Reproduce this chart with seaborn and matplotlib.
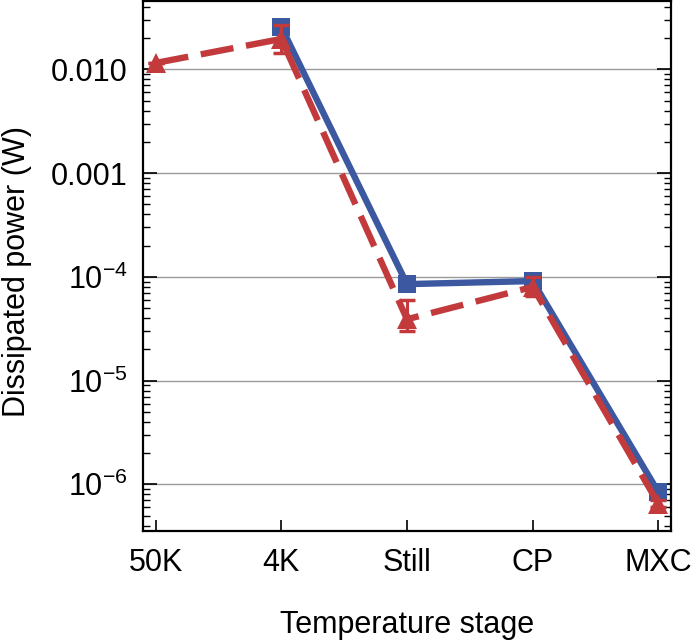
import numpy as np
import pandas as pd
import matplotlib
matplotlib.use("Agg")
import matplotlib.pyplot as plt
import matplotlib.ticker as mticker
import seaborn as sns

# Data
stages = ["50K", "4K", "Still", "CP", "MXC"]

blue_stages = ["4K", "Still", "CP", "MXC"]
blue_power = [0.0256, 8.5e-5, 9.1e-5, 8.4e-7]

red_stages = ["50K", "4K", "Still", "CP", "MXC"]
red_power = [0.0115, 0.0196, 3.9e-5, 8.0e-5, 6.5e-7]
red_err_low = [0.0115, 0.0145, 3.0e-5, 6.5e-5, 6.0e-7]
red_err_high = [0.0115, 0.027, 5.97e-5, 1.0e-4, 7.0e-7]

ytick_vals = [1e-2, 1e-3, 1e-4, 1e-5, 1e-6]
ytick_labels = ["0.010", "0.001", r"$10^{-4}$", r"$10^{-5}$", r"$10^{-6}$"]

blue = "#3B58A0"
red = "#C23A3C"

sns.set_style("white")
plt.rcParams["font.family"] = ["Liberation Sans", "DejaVu Sans"]
plt.rcParams["mathtext.fontset"] = "custom"
plt.rcParams["mathtext.rm"] = "Liberation Sans"
plt.rcParams["mathtext.it"] = "Liberation Sans:italic"
plt.rcParams["mathtext.bf"] = "Liberation Sans:bold"
plt.rcParams["text.color"] = "black"
plt.rcParams["axes.labelcolor"] = "black"
plt.rcParams["xtick.color"] = "black"
plt.rcParams["ytick.color"] = "black"

pos = {s: i for i, s in enumerate(stages)}
blue_df = pd.DataFrame({"x": [pos[s] for s in blue_stages], "power": blue_power})
red_df = pd.DataFrame({"x": [pos[s] for s in red_stages], "power": red_power,
                       "lo": red_err_low, "hi": red_err_high})

fig = plt.figure(figsize=(6.93, 6.41), dpi=100)
ax = fig.add_axes([143 / 693, 110 / 641, 528 / 693, 530 / 641])

ax.set_yscale("log")
for v in ytick_vals:
    ax.axhline(v, color="#9a9a9a", lw=1.0, zorder=0)

sns.lineplot(data=blue_df, x="x", y="power", ax=ax, color=blue, lw=4.6,
             marker="s", markersize=13, markeredgewidth=0, zorder=3)

ax.errorbar(red_df["x"], red_df["power"],
            yerr=[red_df["power"] - red_df["lo"], red_df["hi"] - red_df["power"]],
            fmt="none", ecolor=red, elinewidth=2.2, capsize=6, capthick=2.5, zorder=4)
sns.lineplot(data=red_df, x="x", y="power", ax=ax, color=red, lw=4.6,
             linestyle=(0, (5.2, 2.0)), marker="^", markersize=15,
             markeredgewidth=0, zorder=5)

ax.set_xlim(-0.1, 4.1)
ax.set_ylim(3.55e-7, 0.0455)
ax.set_xticks(range(len(stages)))
ax.set_xticklabels(stages)
ax.set_yticks(ytick_vals)
ax.set_yticklabels(ytick_labels)
ax.yaxis.set_minor_locator(mticker.LogLocator(base=10, subs=np.arange(2, 10)))
ax.yaxis.set_minor_formatter(mticker.NullFormatter())

ax.tick_params(axis="both", which="major", direction="in", labelsize=22,
               color="black", labelcolor="black")
ax.tick_params(axis="y", which="major", length=10, width=1.2, left=True,
               right=True, pad=11)
ax.tick_params(axis="y", which="minor", length=5, width=1.0, left=True,
               right=True, direction="in", color="black")
ax.tick_params(axis="x", which="major", length=8, width=1.2, bottom=True,
               top=False, pad=12)

for sp in ax.spines.values():
    sp.set_color("black")
    sp.set_linewidth(1.6)

ax.set_xlabel("Temperature stage", fontsize=22, labelpad=23, color="black")
ax.set_ylabel("Dissipated power (W)", fontsize=22, color="black")
ax.yaxis.set_label_coords(-0.211, 0.49)

fig.savefig("out.png", dpi=100)
